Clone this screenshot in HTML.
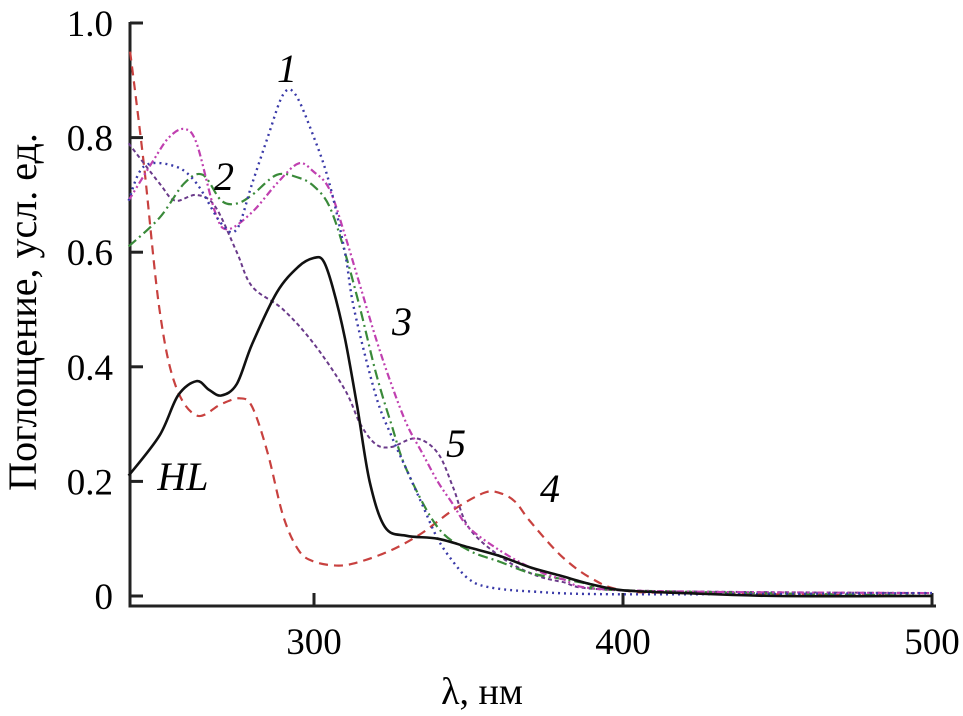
<!DOCTYPE html>
<html><head><meta charset="utf-8"><style>
html,body{margin:0;padding:0;background:#fff;}
svg{display:block;font-family:"Liberation Serif",serif;}
</style></head><body>
<svg id="chart" width="963" height="716">
<g id="axes"></g>
<g id="series"></g>
<text x="36" y="312" font-size="40" text-anchor="middle" transform="rotate(-90 36 312)">Поглощение, усл. ед.</text>
<text x="482" y="704" font-size="38" text-anchor="middle">λ, нм</text>
<g font-style="italic" font-size="40">
<text x="287" y="82" text-anchor="middle">1</text>
<text x="224" y="190" text-anchor="middle">2</text>
<text x="402" y="335" text-anchor="middle">3</text>
<text x="550" y="502" text-anchor="middle">4</text>
<text x="456" y="457" text-anchor="middle">5</text>
<text x="183" y="490" text-anchor="middle">HL</text>
</g>
</svg>
<script>
const xTicks=[300,400,500];
const yTicks=[0,0.2,0.4,0.6,0.8,1.0];
const yTickLabels=["0","0.2","0.4","0.6","0.8","1.0"];
const hlX=[240,250,256,262,266,270,275,280,288,295,300,303,306,310,314,318,323,330,340,350,360,370,380,390,400,420,450,500];
const hlY=[0.21,0.28,0.35,0.375,0.36,0.35,0.37,0.44,0.53,0.575,0.59,0.585,0.54,0.45,0.33,0.2,0.12,0.105,0.1,0.085,0.07,0.05,0.035,0.02,0.01,0.005,0,0];
const s1X=[240,245,255,262,270,275,280,285,290,294,300,305,310,313,320,325,330,335,340,345,350,356,370,400,500];
const s1Y=[0.69,0.75,0.75,0.72,0.65,0.64,0.72,0.8,0.875,0.875,0.8,0.72,0.6,0.5,0.35,0.28,0.22,0.16,0.1,0.06,0.03,0.016,0.008,0.003,0.005];
const s2X=[240,250,258,264,270,275,280,288,295,300,305,310,315,320,325,330,340,350,360,370,380,390,400,500];
const s2Y=[0.61,0.66,0.72,0.735,0.69,0.685,0.7,0.735,0.73,0.715,0.68,0.6,0.5,0.39,0.3,0.22,0.12,0.08,0.06,0.04,0.03,0.02,0.01,0];
const s3X=[240,248,253,258,262,268,272,280,288,295,300,305,310,315,320,325,330,335,340,345,350,360,370,380,400,500];
const s3Y=[0.69,0.76,0.8,0.815,0.79,0.67,0.64,0.67,0.72,0.755,0.74,0.71,0.63,0.54,0.45,0.37,0.3,0.25,0.2,0.16,0.12,0.08,0.05,0.03,0.01,0.005];
const s4X=[240.5,245,250,255,262,270,276,280,285,290,295,300,308,315,325,335,345,355,360,365,370,380,390,400,420,500];
const s4Y=[0.95,0.75,0.5,0.37,0.315,0.335,0.345,0.33,0.25,0.14,0.08,0.06,0.053,0.06,0.08,0.11,0.15,0.18,0.18,0.165,0.13,0.07,0.03,0.01,0.005,0];
const s5X=[240,250,255,262,268,275,280,290,300,310,315,320,325,333,340,345,350,360,370,380,400,500];
const s5Y=[0.79,0.72,0.69,0.70,0.68,0.6,0.54,0.5,0.44,0.36,0.3,0.265,0.26,0.275,0.25,0.19,0.12,0.07,0.04,0.025,0.01,0.005];

const NS="http://www.w3.org/2000/svg";
function xs(w){return 314+3.09*(w-300);}
function ys(v){return 596-573*v;}
const axes=document.getElementById('axes');
function mk(tag,attrs,parent){const e=document.createElementNS(NS,tag);for(const k in attrs)e.setAttribute(k,attrs[k]);parent.appendChild(e);return e;}
let l=mk('path',{d:'M130 22 L130 606 L936 606',fill:'none',stroke:'#222','stroke-width':3},axes);


yTicks.forEach((v,i)=>{
  const t=mk('line',{x1:130,x2:143,y1:ys(v),y2:ys(v),stroke:'#222','stroke-width':3},axes);
  
  
  const tx=mk('text',{x:113,y:ys(v)+13,'font-size':37,'text-anchor':'end'},axes);
  tx.textContent=yTickLabels[i];
  
  
});
xTicks.forEach(w=>{
  const t=mk('line',{x1:xs(w),x2:xs(w),y1:606,y2:593,stroke:'#222','stroke-width':3},axes);
  
  
  const tx=mk('text',{x:xs(w),y:654,'font-size':37,'text-anchor':'middle'},axes);
  tx.textContent=String(w);
  
  
});
function pathD(X,Y){
  const p=X.map((w,i)=>[xs(w),ys(Y[i])]);
  let d='M'+p[0][0].toFixed(1)+' '+p[0][1].toFixed(1);
  for(let i=0;i<p.length-1;i++){
    const p0=p[i-1]||p[i],p1=p[i],p2=p[i+1],p3=p[i+2]||p2;
    const c1=[p1[0]+(p2[0]-p0[0])/6,p1[1]+(p2[1]-p0[1])/6];
    const c2=[p2[0]-(p3[0]-p1[0])/6,p2[1]-(p3[1]-p1[1])/6];
    d+=' C'+c1.map(v=>v.toFixed(1)).join(' ')+' '+c2.map(v=>v.toFixed(1)).join(' ')+' '+p2[0].toFixed(1)+' '+p2[1].toFixed(1);
  }
  return d;
}
const ser=document.getElementById('series');
const defs=[
 [s4X,s4Y,'#c8413f','9 6',2.2,'series-4'],
 [s5X,s5Y,'#6a3a8a','4 3',2,'series-5'],
 [s2X,s2Y,'#3a8a3a','10 4 2 4',2.2,'series-2'],
 [s3X,s3Y,'#c040b0','7 3 2 3 2 3',2.2,'series-3'],
 [s1X,s1Y,'#3a3aa8','2 4',2.4,'series-1'],
 [hlX,hlY,'#111','',2.6,'series-hl']
];
defs.forEach(d=>{
  const p=mk('path',{d:pathD(d[0],d[1]),fill:'none',stroke:d[2],'stroke-width':d[4],'stroke-dasharray':d[3]||'none'},ser);
  
  
});
</script>
</body></html>
